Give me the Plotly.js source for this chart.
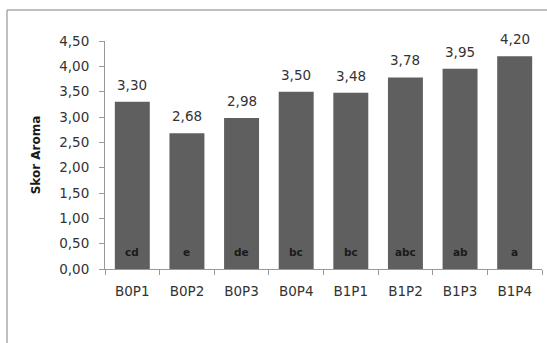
<!DOCTYPE html>
<html><head><meta charset="utf-8">
<script src="https://cdn.plot.ly/plotly-3.0.1.min.js"></script>
<style>html,body{margin:0;padding:0;background:#fff}#chart{width:547px;height:343px}</style>
</head><body><div id="chart"></div>
<script>
const categories = ["B0P1","B0P2","B0P3","B0P4","B1P1","B1P2","B1P3","B1P4"];
const scores = [3.30, 2.68, 2.98, 3.50, 3.48, 3.78, 3.95, 4.20];
const letters = ["cd","e","de","bc","bc","abc","ab","a"];
const yTicks = [0,0.5,1,1.5,2,2.5,3,3.5,4,4.5];

const font = "DejaVu Sans, Verdana, sans-serif";
const txt = "#333";

const valueAnn = categories.map((c,i)=>({
  x:c, y:scores[i], xref:'x', yref:'y', text:scores[i].toFixed(2).replace('.',','),
  showarrow:false, yanchor:'bottom', yshift:7,
  font:{family:font,size:13.5,color:txt}
}));
const letterAnn = categories.map((c,i)=>({
  x:c, y:0.33, xref:'x', yref:'y', text:'<b>'+letters[i]+'</b>',
  showarrow:false, yanchor:'middle',
  font:{family:font,size:10.5,color:'#1a1a1a'}
}));

const trace = {
  type:'bar', x:categories, y:scores,
  marker:{color:'#5f5f5f'}, hoverinfo:'none'
};

const layout = {
  width:547, height:343,
  margin:{l:105,r:5,t:41,b:74},
  paper_bgcolor:'#fff', plot_bgcolor:'#fff',
  separators:',.',
  bargap:0.36,
  showlegend:false,
  xaxis:{
    type:'category', showgrid:false, zeroline:false,
    showline:true, linecolor:'#999', linewidth:1,
    ticks:'outside', ticklen:5, tickcolor:'#999', tickson:'boundaries',
    ticklabelstandoff:10,
    tickfont:{family:font,size:13.5,color:txt}
  },
  yaxis:{
    range:[0,4.5], tickvals:yTicks, tickformat:'.2f',
    showgrid:false, zeroline:false,
    showline:true, linecolor:'#999', linewidth:1,
    ticks:'outside', ticklen:5, tickcolor:'#999',
    ticklabelstandoff:7,
    tickfont:{family:font,size:13.5,color:txt},
    title:{text:'<b>Skor Aroma</b>', standoff:16, font:{family:font,size:12,color:'#1a1a1a'}}
  },
  annotations: valueAnn.concat(letterAnn),
  shapes:[
    {type:'line', xref:'paper', yref:'paper', x0:-0.2243, x1:1.02, y0:1.136, y1:1.136, line:{color:'#aaa',width:1.5}},
    {type:'line', xref:'paper', yref:'paper', x0:-0.2243, x1:-0.2243, y0:1.136, y1:-0.4, line:{color:'#aaa',width:1.5}}
  ]
};
Plotly.newPlot('chart',[trace],layout,{displayModeBar:false,staticPlot:true});
</script></body></html>
